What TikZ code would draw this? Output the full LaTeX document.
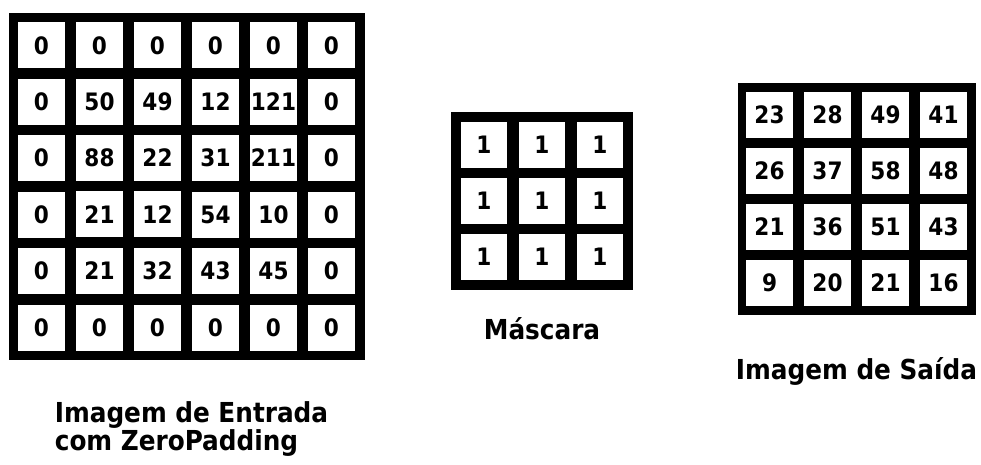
\documentclass[tikz,border=0pt]{standalone}
\usepackage{fontspec}
\usepackage{tikz}
\usetikzlibrary{matrix, positioning}
\newfontfamily\dejavu{DejaVu Sans Condensed}
\tikzset{
  cell/.style={fill=white, draw=none, text=black, inner sep=0pt,
    minimum width=47pt, minimum height=46pt,
    font=\dejavu\bfseries\fontsize{24}{24}\selectfont},
  grid/.style={matrix of nodes, fill=black, draw=none,
    inner sep=9.5pt, column sep=11pt, row sep=10pt, nodes={cell}},
  caption/.style={inner sep=0pt, align=left,
    font=\dejavu\bfseries\fontsize{27.5}{25}\selectfont}
}
\begin{document}
\begin{tikzpicture}[x=1pt, y=-1pt]
    \useasboundingbox (0,0) rectangle (981,465);
    % imagem de entrada com zero padding
    \matrix at (186.5,186.5) [grid, row sep=10.2pt] (entrada) {
      0 & 0  & 0  & 0  & 0   & 0 \\
      0 & 50 & 49 & 12 & 121 & 0 \\
      0 & 88 & 22 & 31 & 211 & 0 \\
      0 & 21 & 12 & 54 & 10  & 0 \\
      0 & 21 & 32 & 43 & 45  & 0 \\
      0 & 0  & 0  & 0  & 0   & 0 \\
    };
    \node [caption, below=41pt of entrada, xshift=5pt] (lblentrada)
      {Imagem de Entrada\\com ZeroPadding};
    % mascara
    \matrix at (542,201) [grid, inner sep=10pt, column sep=12pt,
      nodes={minimum width=46pt}] (mascara) {
      1 & 1 & 1 \\
      1 & 1 & 1 \\
      1 & 1 & 1 \\
    };
    \node [caption, below=27pt of mascara] (lblmascara) {Máscara};
    % imagem de saida
    \matrix at (856.5,199) [grid, inner sep=8.5pt] (saida) {
      23 & 28 & 49 & 41 \\
      26 & 37 & 58 & 48 \\
      21 & 36 & 51 & 43 \\
      9  & 20 & 21 & 16 \\
    };
    \node [caption, below=42pt of saida] (lblsaida) {Imagem de Saída};
\end{tikzpicture}
\end{document}
